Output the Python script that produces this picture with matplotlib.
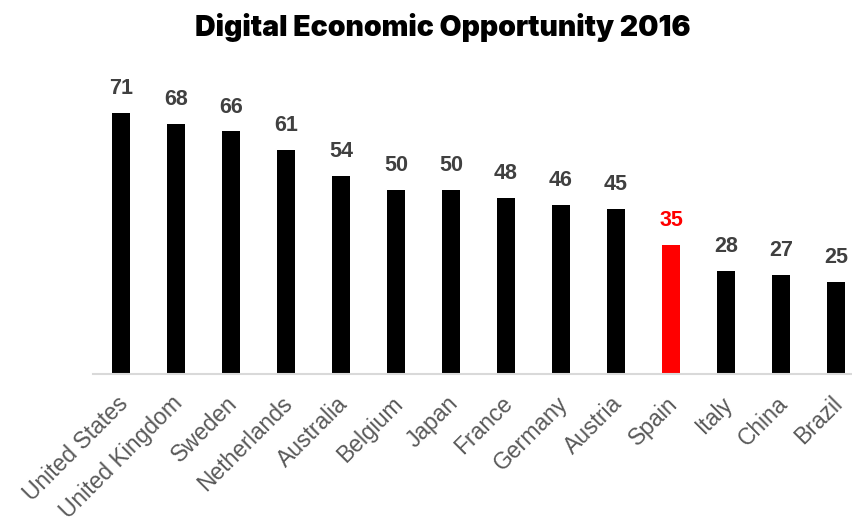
import matplotlib
matplotlib.use("Agg")
from matplotlib import pyplot as plt
from matplotlib.transforms import ScaledTranslation

countries = ["United States", "United Kingdom", "Sweden", "Netherlands", "Australia",
             "Belgium", "Japan", "France", "Germany", "Austria", "Spain", "Italy",
             "China", "Brazil"]
scores = [71, 68, 66, 61, 54, 50, 50, 48, 46, 45, 35, 28, 27, 25]
highlight = "Spain"

fig = plt.figure(figsize=(8.53, 5.22), dpi=100)
ax = fig.add_axes([93.5 / 853, 148 / 522, 770 / 853, 294 / 522])

colors = ["#ff0000" if c == highlight else "#000000" for c in countries]
x = range(len(countries))
ax.bar(x, scores, width=0.31, color=colors)

# value labels above each bar
for i, (c, v) in enumerate(zip(countries, scores)):
    ax.annotate(str(v), (i, v), xytext=(0, 10), textcoords="offset points",
                ha="center", va="bottom", fontsize=15.5, fontweight="bold",
                family="Liberation Sans",
                color="#ff0000" if c == highlight else "#404040")

ax.set_xlim(-0.5, len(countries) - 0.5)
ax.set_ylim(0, 80)
ax.set_yticks([])
ax.set_xticks(list(x))
ax.set_xticklabels(countries, rotation=45, ha="right", rotation_mode="anchor",
                   fontsize=16.5, family="Liberation Sans", color="#595959")
ax.tick_params(axis="x", length=0, pad=13)
shift = ScaledTranslation(-5 / 100, 0, fig.dpi_scale_trans)
for lbl in ax.get_xticklabels():
    lbl.set_transform(lbl.get_transform() + shift)
for side in ["top", "right", "left"]:
    ax.spines[side].set_visible(False)
ax.spines["bottom"].set_color("#d9d9d9")
ax.spines["bottom"].set_linewidth(1.5)

fig.text(0.519, 0.948, "Digital Economic Opportunity 2016", ha="center", va="center",
         fontsize=20.5, fontweight="black", family=["Inter", "DejaVu Sans"])

fig.savefig("out.png", dpi=100)
